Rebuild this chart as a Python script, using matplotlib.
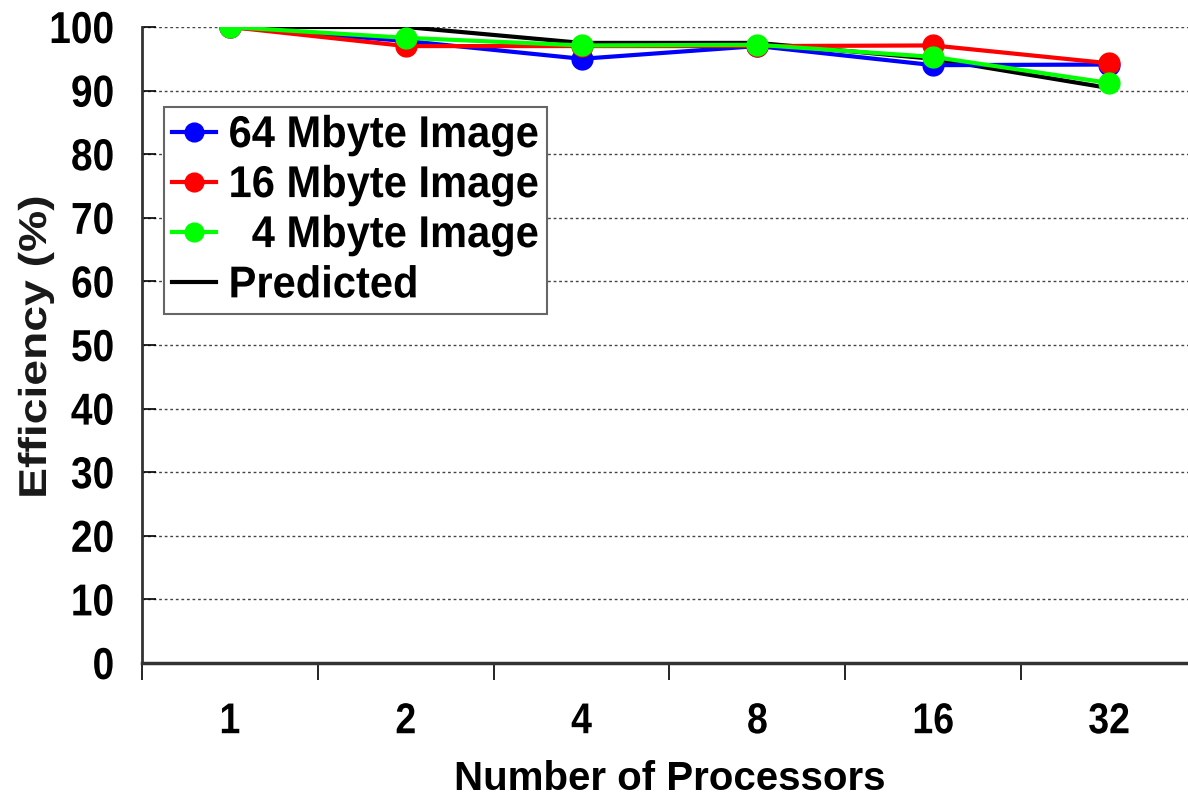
import matplotlib
matplotlib.use("Agg")
import matplotlib.pyplot as plt
from matplotlib.patheffects import AbstractPathEffect
from matplotlib.transforms import Affine2D

categories = ["1", "2", "4", "8", "16", "32"]
mb64 = [100, 97.8, 95.0, 97.0, 94.0, 94.1]
mb16 = [100, 97.0, 97.0, 97.0, 97.1, 94.3]
mb4 = [100, 98.3, 97.1, 97.2, 95.3, 91.2]
predicted = [100, 100, 97.5, 97.5, 95.0, 90.4]
yticks = [0, 10, 20, 30, 40, 50, 60, 70, 80, 90, 100]


class Stretch(AbstractPathEffect):
    """Stretch text glyphs about their centre (reference text is slightly elongated)."""
    def __init__(self, sx=1.0, sy=1.0):
        super().__init__()
        self.sx, self.sy = sx, sy

    def draw_path(self, renderer, gc, tpath, affine, rgbFace=None):
        ext = tpath.get_extents(affine)
        cx, cy = ext.x0 + ext.width / 2, ext.y0 + ext.height / 2
        t = affine + Affine2D().translate(-cx, -cy).scale(self.sx, self.sy).translate(cx, cy)
        renderer.draw_path(gc, tpath, t, rgbFace)


plt.rcParams['font.family'] = ['Liberation Sans', 'DejaVu Sans']
plt.rcParams['font.weight'] = 'bold'

fig = plt.figure(figsize=(11.88, 7.99), dpi=100)
ax = fig.add_axes([142/1188, 1-663/799, (1197-142)/1188, (663-27)/799])

x = list(range(len(categories)))
ax.plot(x, predicted, color='black', lw=3, label='Predicted', zorder=3)
ax.plot(x, mb64, color='#0000ff', lw=3, marker='o', ms=15, label='64 Mbyte Image', zorder=4)
ax.plot(x, mb16, color='#ff0000', lw=3, marker='o', ms=15, label='16 Mbyte Image', zorder=5)
ax.plot(x, mb4, color='#00ff00', lw=3, marker='o', ms=15, label='  4 Mbyte Image', zorder=6)

ax.set_xlim(-0.5, 5.5)
ax.set_ylim(0, 100)
ax.set_yticks(yticks)
ax.set_xticks(x)
ax.set_xticklabels(categories)
ax.set_xticks([i + 0.5 for i in range(-1, 6)], minor=True)
ax.tick_params(axis='x', which='major', length=0, pad=29, labelsize=27)
ax.tick_params(axis='x', which='minor', length=12, width=1.2, direction='out', color='black')
ax.tick_params(axis='y', length=10, width=1.2, direction='in', labelsize=28, pad=20)
for lab in ax.get_xticklabels() + ax.get_yticklabels():
    lab.set_fontweight('bold')
    lab.set_path_effects([Stretch(1.0, 1.15)])

ax.grid(axis='y', linestyle=(0, (2, 2)), color='#444444', lw=1)
ax.set_axisbelow(True)
for s in ['top', 'right']:
    ax.spines[s].set_visible(False)
ax.spines['left'].set_color('#333333')
ax.spines['bottom'].set_color('#333333')
ax.spines['left'].set_linewidth(2)
ax.spines['bottom'].set_linewidth(2.5)

ax.set_xlabel('Number of Processors', fontsize=29, fontweight='bold', labelpad=15)
ylab = ax.set_ylabel('Efficiency (%)', fontsize=28, fontweight='bold', color='#1a1a1a')
ax.yaxis.set_label_coords(-(142-54)/1055, 1-(347-27)/636)
ylab.set_path_effects([Stretch(1.0, 1.19)])

handles, labels = ax.get_legend_handles_labels()
order = [1, 2, 3, 0]
leg = ax.legend([handles[i] for i in order], [labels[i] for i in order],
                loc='upper left', bbox_to_anchor=((164-142)/1055, 1-(107-27)/636),
                prop={'weight': 'bold', 'size': 30}, markerscale=0.9,
                frameon=True, fancybox=False, edgecolor='#666666', framealpha=1,
                handlelength=1.05, handletextpad=0.3, borderpad=0.2, labelspacing=0.24,
                borderaxespad=0)
leg.get_frame().set_linewidth(1.5)
for t in leg.get_texts():
    t.set_path_effects([Stretch(1.0, 1.07)])

fig.savefig('out.png', dpi=100)
